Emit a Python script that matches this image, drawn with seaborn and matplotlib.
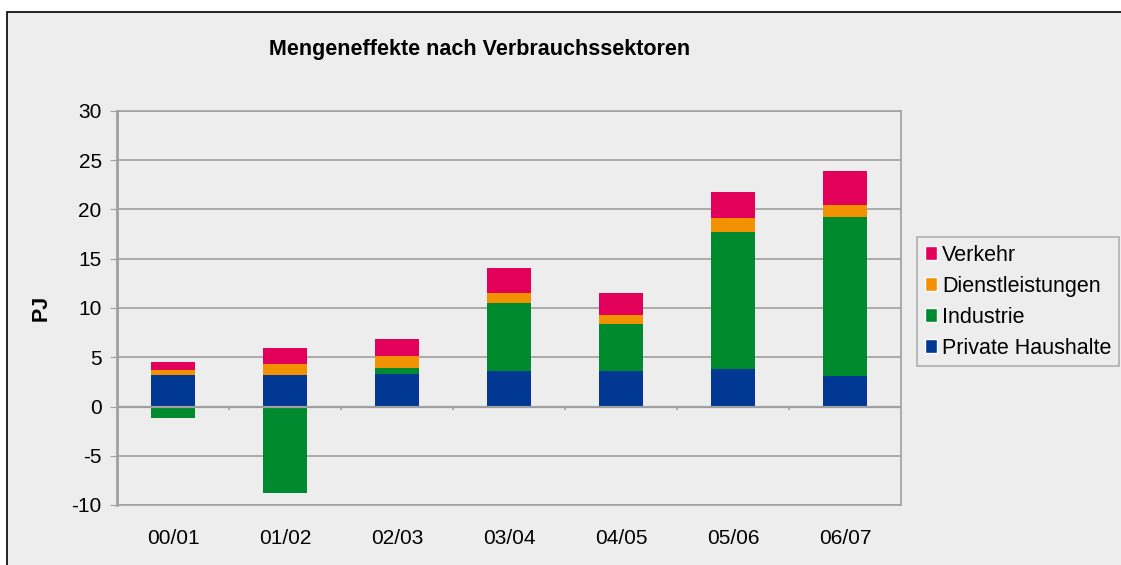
import numpy as np
import pandas as pd
import matplotlib
matplotlib.use("Agg")
import matplotlib.pyplot as plt
from matplotlib.patches import Rectangle, Patch
import seaborn as sns

jahre = ["00/01", "01/02", "02/03", "03/04", "04/05", "05/06", "06/07"]
haushalte = [3.15, 3.15, 3.25, 3.65, 3.65, 3.85, 3.05]
industrie = [-1.2, -8.75, 0.7, 6.9, 4.7, 13.85, 16.15]
dienstleistungen = [0.6, 1.2, 1.2, 1.0, 0.9, 1.4, 1.3]
verkehr = [0.8, 1.55, 1.75, 2.55, 2.25, 2.65, 3.45]

farben = {
    "Private Haushalte": "#003894",
    "Industrie": "#008A2F",
    "Dienstleistungen": "#F39200",
    "Verkehr": "#E2005A",
}

df = pd.DataFrame({"Jahr": jahre, "Private Haushalte": haushalte, "Industrie": industrie,
                   "Dienstleistungen": dienstleistungen, "Verkehr": verkehr})

# stacking: negative Industrie values hang below zero
hh = df["Private Haushalte"].to_numpy()
ind = df["Industrie"].to_numpy()
bottoms = {
    "Private Haushalte": np.zeros(len(df)),
    "Industrie": np.where(ind >= 0, hh, 0.0),
}
bottoms["Dienstleistungen"] = hh + np.clip(ind, 0, None)
bottoms["Verkehr"] = bottoms["Dienstleistungen"] + df["Dienstleistungen"].to_numpy()

sns.set_style("white")
plt.rcParams["font.family"] = ["Liberation Sans", "DejaVu Sans"]
plt.rcParams["text.color"] = "black"
plt.rcParams["axes.labelcolor"] = "black"
plt.rcParams["xtick.color"] = "black"
plt.rcParams["ytick.color"] = "black"
plt.rcParams["axes.unicode_minus"] = False

bg = "#EDEDED"
grid = "#A0A0A0"
fig = plt.figure(figsize=(11.21, 5.65), dpi=100)
fig.patch.set_facecolor("white")
fig.patches.append(Rectangle((7 / 1121, -0.05), 1.1, 1 - 12 / 565 + 0.05, transform=fig.transFigure,
                             facecolor=bg, edgecolor="black", linewidth=1.2, zorder=-5))
ax = fig.add_axes([117 / 1121, 1 - 505 / 565, 784 / 1121, 394 / 565])
ax.set_facecolor(bg)

for serie in ["Private Haushalte", "Industrie", "Dienstleistungen", "Verkehr"]:
    sns.barplot(data=df, x="Jahr", y=serie, bottom=bottoms[serie], color=farben[serie],
                width=0.4, saturation=1, linewidth=0, ax=ax, zorder=3)

ax.set_ylim(-10, 30)
ax.set_xlim(-0.5, len(jahre) - 0.5)
ax.set_yticks(range(-10, 31, 5))
ax.yaxis.grid(True, color=grid, linewidth=1.2)
ax.set_axisbelow(True)
ax.axhline(0, color=grid, linewidth=1.6, zorder=4)
ax.vlines(np.arange(len(jahre) - 1) + 0.5, -0.35, 0, color=grid, linewidth=1.2, zorder=4)

for s in ax.spines.values():
    s.set_color(grid)
    s.set_linewidth(1.2)
ax.spines["left"].set_linewidth(2)

ax.tick_params(axis="y", which="major", left=True, length=5, color=grid, labelsize=15, pad=6)
ax.tick_params(axis="x", bottom=False, labelsize=15, pad=14)
ax.set_xlabel("")
ax.set_ylabel("PJ", fontsize=15.5, fontweight="bold", labelpad=14)

fig.text(480 / 1121, 1 - 50 / 565, "Mengeneffekte nach Verbrauchssektoren", ha="center", va="center",
         fontsize=15.5, fontweight="bold")

handles = [Patch(facecolor=farben[k], label=k) for k in ["Verkehr", "Dienstleistungen", "Industrie", "Private Haushalte"]]
leg = fig.legend(handles=handles, loc="upper left", bbox_to_anchor=(917 / 1121, 1 - 237 / 565),
                 frameon=True, fancybox=False, fontsize=15.5, handlelength=0.6, handleheight=0.6,
                 handletextpad=0.2, labelspacing=0.47, borderpad=0.35, borderaxespad=0)
leg.get_frame().set_edgecolor(grid)
leg.get_frame().set_facecolor(bg)
leg.get_frame().set_linewidth(1.2)

fig.savefig("out.png", dpi=100, facecolor=fig.get_facecolor())
